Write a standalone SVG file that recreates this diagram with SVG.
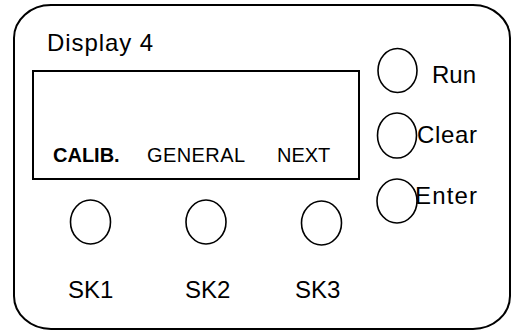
<svg xmlns="http://www.w3.org/2000/svg" width="519" height="331" viewBox="0 0 519 331">
<style>
.frame{fill:#fff;stroke:#000;stroke-width:2}
.btn{fill:#fff;stroke:#000;stroke-width:1.6}
.lbl{font-family:"Liberation Sans",Arial,sans-serif;font-size:24px;fill:#000}
.soft{font-family:"Liberation Sans",Arial,sans-serif;font-size:20px;fill:#000}
.bold{font-weight:bold}
</style>
<rect width="519" height="331" fill="#fff"/>
<g id="panel">
<rect class="frame" x="14" y="5" width="496" height="324" rx="37" ry="33"/>
<text class="lbl" x="47" y="51" textLength="106" lengthAdjust="spacing">Display 4</text>
</g>
<g id="display">
<rect class="frame" x="33" y="71" width="326" height="108"/>
<text class="soft bold" x="53" y="162">CALIB.</text>
<text class="soft" x="147" y="162" textLength="98" lengthAdjust="spacing">GENERAL</text>
<text class="soft" x="277" y="162">NEXT</text>
</g>
<g id="run">
<ellipse class="btn" cx="397.5" cy="70.5" rx="19.5" ry="22"/>
<text class="lbl" x="432" y="83">Run</text>
</g>
<g id="clear">
<ellipse class="btn" cx="397" cy="135.5" rx="19.5" ry="22.5"/>
<text class="lbl" x="417" y="143" textLength="60" lengthAdjust="spacing">Clear</text>
</g>
<g id="enter">
<ellipse class="btn" cx="397" cy="201" rx="20" ry="22"/>
<text class="lbl" x="415" y="204" textLength="62" lengthAdjust="spacing">Enter</text>
</g>
<g id="sk1">
<ellipse class="btn" cx="90.5" cy="222" rx="20" ry="22"/>
<text class="lbl" x="68" y="298">SK1</text>
</g>
<g id="sk2">
<ellipse class="btn" cx="206" cy="222" rx="20" ry="22"/>
<text class="lbl" x="185" y="298">SK2</text>
</g>
<g id="sk3">
<ellipse class="btn" cx="321.5" cy="223" rx="20" ry="22"/>
<text class="lbl" x="295" y="298">SK3</text>
</g>
<g id="connectors"/>
</svg>
